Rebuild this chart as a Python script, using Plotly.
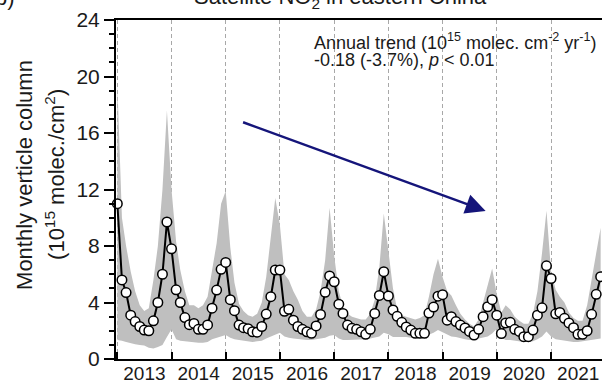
import plotly.graph_objects as go
import pandas as pd

# Monthly dates Jan 2013 - Dec 2021
months = pd.date_range("2013-01-01", periods=108, freq="MS")

# Monthly mean NO2 vertical column (1e15 molec./cm2)
no2 = [
    11.0, 5.6, 4.7, 3.1, 2.65, 2.3, 2.05, 2.0, 2.7, 4.0, 6.0, 9.7,      # 2013
    7.8, 4.9, 4.0, 2.93, 2.43, 2.52, 2.1, 2.1, 2.41, 3.6, 4.88, 6.35,   # 2014
    6.84, 4.2, 3.42, 2.4, 2.22, 2.15, 1.93, 1.9, 2.3, 3.18, 4.41, 6.3,  # 2015
    6.3, 3.38, 3.52, 2.75, 2.3, 2.1, 1.93, 1.82, 2.34, 3.15, 4.72, 5.88,  # 2016
    5.47, 3.88, 3.23, 2.4, 2.17, 2.1, 1.93, 1.75, 2.1, 3.23, 4.5, 6.18,  # 2017
    4.46, 3.47, 3.02, 2.6, 2.27, 2.05, 1.82, 1.82, 1.82, 3.25, 3.68, 4.45,  # 2018
    4.55, 2.75, 3.0, 2.65, 2.4, 2.2, 1.95, 1.7, 2.1, 3.0, 3.7, 4.2,     # 2019
    3.1, 1.8, 2.55, 2.6, 2.1, 1.95, 1.58, 1.58, 2.05, 3.1, 3.62, 6.6,   # 2020
    5.7, 3.2, 3.3, 2.88, 2.55, 2.22, 1.75, 1.75, 2.0, 3.16, 4.58, 5.83,  # 2021
]

# Upper / lower envelope of the grey band
upper = [
    19.5, 10.0, 8.0, 6.2, 4.8, 3.8, 3.4, 3.6, 5.6, 8.0, 12.0, 17.6,
    12.0, 8.3, 6.3, 4.8, 3.8, 3.8, 3.6, 3.8, 4.4, 6.3, 8.2, 11.0,
    11.9, 7.9, 5.4, 3.9, 3.4, 3.1, 3.0, 3.2, 4.0, 5.8, 8.5, 11.4,
    9.5, 6.0, 5.6, 4.8, 4.2, 3.4, 3.0, 3.0, 3.5, 4.8, 7.0, 10.7,
    7.3, 4.8, 3.7, 3.2, 3.0, 2.9, 2.8, 2.8, 3.2, 4.2, 6.5, 10.3,
    7.8, 5.0, 3.5, 3.1, 3.0, 2.9, 2.8, 2.9, 3.1, 4.4, 6.0, 7.1,
    5.8, 4.8, 4.5, 3.8, 3.2, 2.8, 2.5, 2.3, 2.8, 4.0, 5.2, 6.4,
    4.6, 3.3, 3.8, 3.5, 3.0, 2.7, 2.5, 2.5, 3.2, 4.8, 7.5, 10.5,
    6.2, 4.9, 4.4, 4.0, 3.3, 2.9, 2.7, 2.7, 3.8, 5.5, 7.5, 9.3,
]
lower = [
    1.35, 1.3, 1.2, 1.1, 1.05, 1.0, 0.95, 0.8, 0.75, 0.85, 1.0, 1.55,
    2.1, 1.4, 1.3, 1.25, 1.2, 1.2, 1.15, 1.15, 1.2, 1.4, 1.5, 1.65,
    1.7, 1.5, 1.4, 1.35, 1.3, 1.25, 1.2, 1.25, 1.3, 1.45, 1.6, 1.75,
    1.85, 1.6, 1.5, 1.45, 1.4, 1.4, 1.35, 1.35, 1.4, 1.4, 1.5, 1.65,
    1.7, 1.45, 1.35, 1.35, 1.35, 1.35, 1.35, 1.4, 1.45, 1.5, 1.6, 1.85,
    1.75, 1.55, 1.55, 1.6, 1.55, 1.5, 1.5, 1.55, 1.6, 1.7, 1.85, 2.05,
    1.9, 1.7, 1.6, 1.55, 1.45, 1.4, 1.35, 1.35, 1.45, 1.55, 1.6, 1.8,
    2.15, 1.5, 1.35, 1.35, 1.3, 1.25, 1.2, 1.2, 1.25, 1.4, 1.6, 1.95,
    1.6, 1.4, 1.35, 1.3, 1.25, 1.2, 1.2, 1.25, 1.3, 1.35, 1.4, 1.45,
]

# Trend arrow end points (date, value)
arrow_start = ("2015-04-18", 16.8)
arrow_end = ("2019-10-18", 10.48)

title_text = "Satellite NO<sub>2</sub> in eastern China"
trend_line1 = "Annual trend (10<sup>15</sup> molec. cm<sup>-2</sup> yr<sup>-1</sup>)"
trend_line2 = "-0.18 (-3.7%), <i>p</i> &lt; 0.01"
ytitle1 = "Monthly verticle column"
ytitle2 = "(10<sup>15</sup> molec./cm<sup>2</sup>)"

GREY = "#bfbfbf"
FONT = "Liberation Sans, Arial, sans-serif"

fig = go.Figure()
fig.add_trace(go.Scatter(x=months, y=lower, mode="lines",
                         line=dict(width=0, color=GREY), showlegend=False, hoverinfo="skip"))
fig.add_trace(go.Scatter(x=months, y=upper, mode="lines", fill="tonexty", fillcolor=GREY,
                         line=dict(width=0, color=GREY), showlegend=False, hoverinfo="skip"))
fig.add_trace(go.Scatter(x=months, y=no2, mode="lines+markers",
                         line=dict(color="black", width=2),
                         marker=dict(size=9.5, color="white", line=dict(color="black", width=1.5)),
                         cliponaxis=False, showlegend=False))

fig.update_layout(
    width=602, height=384,
    margin=dict(l=116, r=0, t=20, b=25, autoexpand=False),
    plot_bgcolor="white", paper_bgcolor="white",
    font=dict(family=FONT, color="#1a1a1a"),
    showlegend=False,
)
fig.update_xaxes(
    type="date", range=["2012-12-23", "2021-12-10"], automargin=False,
    dtick="M12", tick0="2013-01-01", tickformat="%Y", ticklabelmode="period",
    ticks="inside", ticklen=7, tickwidth=1.5, tickcolor="black",
    showline=True, linecolor="black", linewidth=2, mirror=True,
    showgrid=True, gridcolor="#a8a8a8", gridwidth=1, griddash="4px,3px",
    tickfont=dict(size=19), zeroline=False, ticklabelstandoff=-4,
)
fig.update_yaxes(
    range=[0, 24], dtick=4, tick0=0, automargin=False,
    ticks="outside", ticklen=10, tickwidth=1.5, tickcolor="black",
    showline=True, linecolor="black", linewidth=2,
    showgrid=False, zeroline=False, tickfont=dict(size=21),
    minor=dict(dtick=1, ticks="outside", ticklen=5, tickwidth=1.5, tickcolor="black", showgrid=False),
)

anns = [
    dict(x=arrow_end[0], y=arrow_end[1], ax=arrow_start[0], ay=arrow_start[1],
         xref="x", yref="y", axref="x", ayref="y", text="", showarrow=True,
         arrowhead=2, arrowsize=1.6, arrowwidth=2.5, arrowcolor="#15157a"),
    dict(x=0.4033, y=0.938, xref="paper", yref="paper", xanchor="left", yanchor="middle",
         text=trend_line1, showarrow=False, font=dict(size=18)),
    dict(x=0.4033, y=0.882, xref="paper", yref="paper", xanchor="left", yanchor="middle",
         text=trend_line2, showarrow=False, font=dict(size=18)),
    dict(x=-0.1872, y=0.543, xref="paper", yref="paper", xanchor="center", yanchor="middle",
         text=ytitle1, textangle=-90, showarrow=False, font=dict(size=22)),
    dict(x=-0.1255, y=0.543, xref="paper", yref="paper", xanchor="center", yanchor="middle",
         text=ytitle2, textangle=-90, showarrow=False, font=dict(size=22)),
    dict(x=0.461, y=1.065, xref="paper", yref="paper", xanchor="center", yanchor="middle",
         text=title_text, showarrow=False, font=dict(size=22)),
    dict(x=-0.2037, y=1.065, xref="paper", yref="paper", xanchor="right", yanchor="middle",
         text="b)", showarrow=False, font=dict(size=22)),
]
fig.update_layout(annotations=anns)

fig.write_html("out.html")
